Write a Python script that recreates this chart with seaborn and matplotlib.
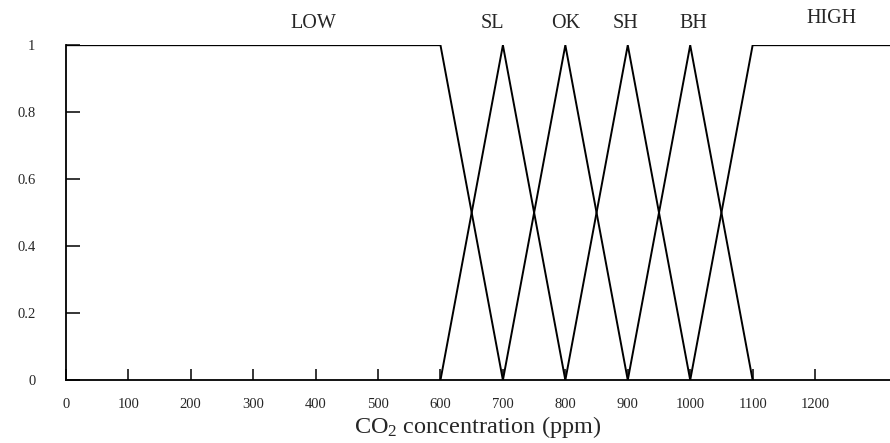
import numpy as np
import pandas as pd
import matplotlib
matplotlib.use("Agg")
from matplotlib import pyplot as plt
import seaborn as sns

# membership functions (x in ppm, y = degree)
sets = ["LOW", "SL", "OK", "SH", "BH", "HIGH"]
low_x = [0, 600, 700]
low_y = [1, 1, 0]
sl_x = [600, 700, 800]
sl_y = [0, 1, 0]
ok_x = [700, 800, 900]
ok_y = [0, 1, 0]
sh_x = [800, 900, 1000]
sh_y = [0, 1, 0]
bh_x = [900, 1000, 1100]
bh_y = [0, 1, 0]
high_x = [1000, 1100, 1320]
high_y = [0, 1, 1]

# label positions (ppm, degree)
label_x = [396, 683, 800, 896, 1005, 1227]
label_y = [1.035, 1.035, 1.035, 1.035, 1.035, 1.05]

xticks = [0, 100, 200, 300, 400, 500, 600, 700, 800, 900, 1000, 1100, 1200]
yticks = [0, 0.2, 0.4, 0.6, 0.8, 1]
ytick_labels = ["0", "0.2", "0.4", "0.6", "0.8", "1"]

frames = []
for name, xs, ys in zip(sets, [low_x, sl_x, ok_x, sh_x, bh_x, high_x],
                        [low_y, sl_y, ok_y, sh_y, bh_y, high_y]):
    frames.append(pd.DataFrame({"ppm": xs, "mu": ys, "set": name}))
df = pd.concat(frames, ignore_index=True)

sns.set_style("ticks")
plt.rcParams["font.family"] = ["Liberation Serif", "DejaVu Serif"]
plt.rcParams["mathtext.default"] = "regular"

fig = plt.figure(figsize=(8.9, 4.43), dpi=100)
ax = fig.add_axes([0.074, 0.142, 0.926, 0.756])

sns.lineplot(data=df, x="ppm", y="mu", units="set", estimator=None,
             color="black", linewidth=1.4, sort=False, ax=ax)

for name, lx, ly in zip(sets, label_x, label_y):
    ax.text(lx, ly, name, ha="center", va="bottom", fontsize=14.5, clip_on=False)

ax.set_xlim(0, 1320)
ax.set_ylim(0, 1)
ax.set_xticks(xticks)
ax.set_xticklabels([str(t) for t in xticks])
ax.set_yticks(yticks)
ax.set_yticklabels(ytick_labels)
ax.tick_params(axis="x", direction="in", length=8, width=1.3, pad=13, labelsize=10.5)
ax.tick_params(axis="y", direction="in", length=10, width=1.3, pad=22, labelsize=10.5)
sns.despine(ax=ax, top=True, right=True)
for s in ["left", "bottom"]:
    ax.spines[s].set_linewidth(1.3)
    ax.spines[s].set_color("black")

ax.set_xlabel("CO$_2$ concentration (ppm)", fontsize=17.5, labelpad=2)
ax.set_ylabel("")

fig.savefig("out.png", dpi=100)
